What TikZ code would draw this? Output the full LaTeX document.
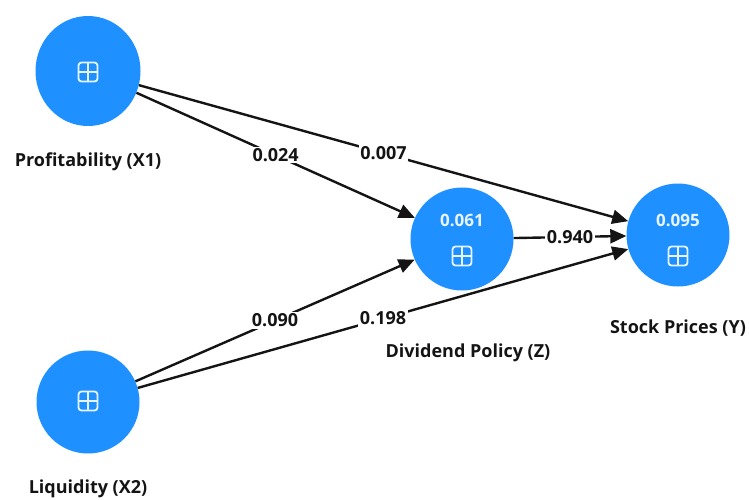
\documentclass[tikz,border=0pt]{standalone}
\usepackage{fontspec}
\setmainfont{Open Sans}
\usetikzlibrary{arrows.meta,shapes.geometric}
\definecolor{lvblue}{RGB}{30,144,255}
\definecolor{ink}{RGB}{20,20,20}
\tikzset{
  latent/.style={circle, fill=lvblue, draw=none, minimum size=#1, inner sep=0pt},
  latent/.default=103pt,
  caption/.style={font=\bfseries\fontsize{18}{20}\selectfont, text=ink, inner sep=0pt},
  rsq/.style={font=\bfseries\fontsize{17}{19}\selectfont, text=white!90!lvblue, inner sep=0pt},
  relpath/.style={line width=2.4pt, draw=ink, -{Triangle[length=16pt,width=14pt]}},
  coef/.style={fill=white, font=\bfseries\fontsize{18}{20}\selectfont, text=ink, inner sep=1.5pt},
  plusbox/.pic={
    \draw[white!90!lvblue, line width=1.8pt, rounded corners=3pt] (-9.5,-9.5) rectangle (9.5,9.5);
    \draw[white!90!lvblue, line width=1.8pt] (-9.5,0) -- (9.5,0) (0,-9.5) -- (0,9.5);
  }
}
\begin{document}
\begin{tikzpicture}[x=1pt, y=-1pt]
\useasboundingbox (0,0) rectangle (749,499);

% latent variables
\node[ellipse, fill=lvblue, draw=none, inner sep=0pt, minimum width=105pt, minimum height=110pt] (x1) at (88,71) {};
\node[latent] (x2) at (88,402) {};
\node[latent] (z) at (462,239) {};
\node[latent] (y) at (678,235) {};

% symbols and R-squared values inside the circles
\pic at (88,72) {plusbox};
\pic at (88,401) {plusbox};
\node[rsq] (zr) at (462,220) {0.061};
\pic at (462,256) {plusbox};
\node[rsq] (yr) at (678,220) {0.095};
\pic at (678,256) {plusbox};

% captions
\node[caption] (cx1) at (88,162) {Profitability (X1)};
\node[caption] (cx2) at (88,489) {Liquidity (X2)};
\node[caption] (cz) at (468,353) {Dividend Policy (Z)};
\node[caption] (cy) at (678,328) {Stock Prices (Y)};

% path coefficients
\draw[relpath] (x1) -- node[coef] {0.007} (y);
\draw[relpath] (x1) -- node[coef] {0.024} (z);
\draw[relpath] (z) -- node[coef] {0.940} (y);
\draw[relpath] (x2) -- node[coef] {0.090} (z);
\draw[relpath] (x2) -- node[coef] {0.198} (y);
\end{tikzpicture}
\end{document}
